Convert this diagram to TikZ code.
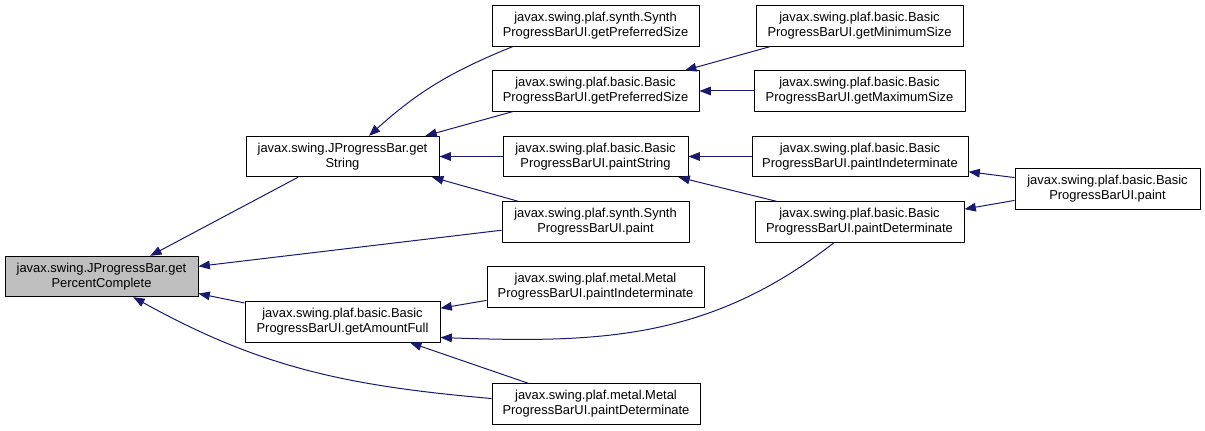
\documentclass[tikz,border=0pt]{standalone}
\usepackage{fontspec}
\setmainfont{Liberation Sans}
\usetikzlibrary{arrows.meta}
\definecolor{cgEdge}{HTML}{191970}
\definecolor{cgRoot}{HTML}{BFBFBF}
\tikzset{
  cg diagram/.style={x=0.75pt, y=-0.75pt,
    font=\fontsize{9.7}{11.25}\selectfont, line join=round},
  cg box/.style={draw=black, fill=white, line width=0.75pt,
    align=center, inner sep=0pt, minimum height=30.25pt},
  cg root/.style={cg box, fill=cgRoot},
  cg call/.style={-{Triangle[length=8.5pt, width=6.5pt]}, draw=cgEdge,
    line width=0.75pt}
}

\begin{document}
\begin{tikzpicture}[cg diagram]
\useasboundingbox (0,0) rectangle (1205,431);
\node[cg root, minimum width=144.75pt] (pc) at (101.5,276.5) {javax.swing.JProgressBar.get\\PercentComplete};
\node[cg box, minimum width=144.75pt] (gs) at (342.5,156.5) {javax.swing.JProgressBar.get\\String};
\node[cg box, minimum width=146.25pt] (af) at (342.5,322) {javax.swing.plaf.basic.Basic\\ProgressBarUI.getAmountFull};
\node[cg box, minimum width=155.25pt] (ssp) at (595.5,26) {javax.swing.plaf.synth.Synth\\ProgressBarUI.getPreferredSize};
\node[cg box, minimum width=155.25pt] (bps) at (595.5,91) {javax.swing.plaf.basic.Basic\\ProgressBarUI.getPreferredSize};
\node[cg box, minimum width=138.75pt] (ps) at (595.5,156.5) {javax.swing.plaf.basic.Basic\\ProgressBarUI.paintString};
\node[cg box, minimum width=140.25pt] (sp) at (595.5,222) {javax.swing.plaf.synth.Synth\\ProgressBarUI.paint};
\node[cg box, minimum width=162.75pt] (mpi) at (595.5,287) {javax.swing.plaf.metal.Metal\\ProgressBarUI.paintIndeterminate};
\node[cg box, minimum width=156pt] (mpd) at (596,404) {javax.swing.plaf.metal.Metal\\ProgressBarUI.paintDeterminate};
\node[cg box, minimum width=155.25pt] (gmin) at (859.5,26) {javax.swing.plaf.basic.Basic\\ProgressBarUI.getMinimumSize};
\node[cg box, minimum width=158.25pt] (gmax) at (859.5,91) {javax.swing.plaf.basic.Basic\\ProgressBarUI.getMaximumSize};
\node[cg box, minimum width=162pt] (bpi) at (860,156.5) {javax.swing.plaf.basic.Basic\\ProgressBarUI.paintIndeterminate};
\node[cg box, minimum width=156.75pt] (bpd) at (859.5,222) {javax.swing.plaf.basic.Basic\\ProgressBarUI.paintDeterminate};
\node[cg box, minimum width=138.75pt] (bp) at (1107.5,189) {javax.swing.plaf.basic.Basic\\ProgressBarUI.paint};

\draw[cg call] (gs.205.75) -- (pc.23.8);
\draw[cg call] (sp.185.5) -- (pc.6.8);
\draw[cg call] (af.169) -- (pc.350.3);
\draw[cg call] (mpd.177.2) to[out=175, in=-29] (pc.327);
\draw[cg call] (ssp.194.3) to[out=202, in=42] (gs.38.8);
\draw[cg call] (bps.194.3) -- (gs.14.5);
\draw[cg call] (ps.west) -- (gs.east);
\draw[cg call] (sp.165.2) -- (gs.347.1);
\draw[cg call] (mpi.187.9) -- (af.8.7);
\draw[cg call] (bpd.219.2) to[out=218, in=-2] (af.351.3);
\draw[cg call] (mpd.163.1) -- (af.343.5);
\draw[cg call] (gmin.193.8) -- (bps.13.3);
\draw[cg call] (gmax.west) -- (bps.east);
\draw[cg call] (bpi.west) -- (ps.east);
\draw[cg call] (bpd.166.2) -- (ps.346.4);
\draw[cg call] (bp.173) -- (bpi.352);
\draw[cg call] (bp.187.8) -- (bpd.7.5);
\end{tikzpicture}
\end{document}
